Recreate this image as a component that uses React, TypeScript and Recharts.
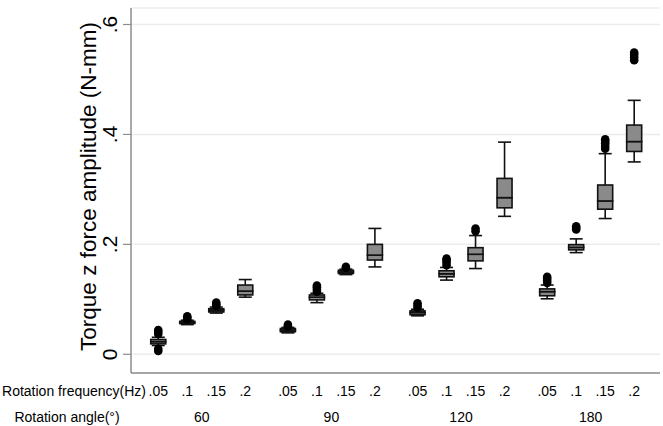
import React from "react";
import { Bar, CartesianGrid, ComposedChart, Label, Scatter, XAxis, YAxis } from "recharts";

const angles = [60, 90, 120, 180];
const freqLabels = [".05", ".1", ".15", ".2"];

// one value per box: 60° (.05 .1 .15 .2), then 90°, 120°, 180°
const whiskerLow = [0.016, 0.054, 0.075, 0.104, 0.039, 0.094, 0.145, 0.159, 0.07, 0.135, 0.156, 0.251, 0.101, 0.185, 0.247, 0.35];
const q1 = [0.019, 0.056, 0.077, 0.108, 0.041, 0.099, 0.147, 0.1715, 0.072, 0.141, 0.17, 0.2665, 0.1065, 0.19, 0.264, 0.369];
const median = [0.023, 0.058, 0.08, 0.115, 0.044, 0.104, 0.15, 0.1805, 0.076, 0.1465, 0.182, 0.285, 0.114, 0.1945, 0.279, 0.387];
const q3 = [0.027, 0.06, 0.083, 0.126, 0.047, 0.108, 0.153, 0.2, 0.079, 0.152, 0.194, 0.32, 0.119, 0.1995, 0.308, 0.417];
const whiskerHigh = [0.031, 0.062, 0.086, 0.136, 0.049, 0.111, 0.155, 0.229, 0.082, 0.158, 0.216, 0.386, 0.126, 0.21, 0.365, 0.462];
const outliers = [
  [0.037, 0.041, 0.044, 0.006, 0.01],
  [0.064, 0.067, 0.069],
  [0.088, 0.091, 0.094],
  [],
  [0.051, 0.054],
  [0.114, 0.118, 0.122, 0.125],
  [0.157, 0.159],
  [],
  [0.085, 0.089, 0.093],
  [0.162, 0.167, 0.171, 0.174],
  [0.224, 0.229],
  [],
  [0.13, 0.134, 0.138, 0.141],
  [0.227, 0.23, 0.233],
  [0.374, 0.379, 0.384, 0.388, 0.391],
  [0.535, 0.54, 0.545, 0.549],
];

const yTicks = [0, 0.2, 0.4, 0.6];

const GROUP_STEP = 4.47;
const FONT = "'Liberation Sans', Arial, sans-serif";
const AXIS_GREY = "#8c8c8c";
const BOX_FILL = "#8a8a8a";
const INK = "#111111";

const boxX = (k: number) => Math.floor(k / 4) * GROUP_STEP + (k % 4);
const groupCenters = angles.map((_, g) => g * GROUP_STEP + 1.5);

const rows = whiskerLow.map((lo, k) => ({
  x: boxX(k),
  base: lo,
  lowWhisker: q1[k] - lo,
  lowBox: median[k] - q1[k],
  highBox: q3[k] - median[k],
  highWhisker: whiskerHigh[k] - q3[k],
}));

const outlierPoints = outliers.flatMap((vals, k) => vals.map((v) => ({ x: boxX(k), y: v })));

const boxTicks = rows.map((r) => r.x);
const xTicks = [...boxTicks, ...groupCenters];

const fmtY = (v: number) => (v === 0 ? "0" : String(v).replace(/^0/, ""));

const BoxHalf = (p: any) => (
  <rect x={p.x} y={p.y} width={p.width} height={p.height} fill={BOX_FILL} stroke={INK} strokeWidth={1.6} />
);

const WhiskerLow = (p: any) => {
  const cx = p.x + p.width / 2;
  const bottom = p.y + p.height;
  return (
    <g stroke={INK} strokeWidth={1.6}>
      <line x1={cx} x2={cx} y1={p.y} y2={bottom} />
      <line x1={cx - 6.5} x2={cx + 6.5} y1={bottom} y2={bottom} />
    </g>
  );
};

const WhiskerHigh = (p: any) => {
  const cx = p.x + p.width / 2;
  return (
    <g stroke={INK} strokeWidth={1.6}>
      <line x1={cx} x2={cx} y1={p.y} y2={p.y + p.height} />
      <line x1={cx - 6.5} x2={cx + 6.5} y1={p.y} y2={p.y} />
    </g>
  );
};

const OutlierDot = (p: any) => <circle cx={p.cx} cy={p.cy} r={4.3} fill="#000" />;

const YTick = ({ x, y, payload }: any) => (
  <text
    x={x - 4}
    y={y}
    transform={`rotate(-90, ${x - 4}, ${y})`}
    textAnchor="middle"
    fontSize={21}
    fontFamily={FONT}
    fill="#000"
  >
    {fmtY(payload.value)}
  </text>
);

const XTick = ({ x, y, payload }: any) => {
  const k = boxTicks.findIndex((b) => Math.abs(b - payload.value) < 1e-6);
  if (k >= 0) {
    return (
      <text x={x} y={y + 23} textAnchor="middle" fontSize={14} fontFamily={FONT} fill="#000">
        {freqLabels[k % 4]}
      </text>
    );
  }
  const g = groupCenters.findIndex((c) => Math.abs(c - payload.value) < 1e-6);
  return (
    <text x={x} y={y + 49} textAnchor="middle" fontSize={14} fontFamily={FONT} fill="#000">
      {angles[g]}
    </text>
  );
};

const XTitles = ({ viewBox }: any) => (
  <g fontFamily={FONT} fontSize={14} fill="#000">
    <text x={viewBox.x + 15} y={viewBox.y + 23} textAnchor="end">
      Rotation frequency(Hz)
    </text>
    <text x={viewBox.x - 64} y={viewBox.y + 49} textAnchor="middle">
      Rotation angle(°)
    </text>
  </g>
);

const YTitle = ({ viewBox }: any) => {
  const bx = viewBox.x + 25;
  const cy = viewBox.y + viewBox.height / 2 - 4;
  return (
    <text
      x={bx}
      y={cy}
      transform={`rotate(-90, ${bx}, ${cy})`}
      textAnchor="middle"
      fontSize={22.5}
      fontFamily={FONT}
      fill="#000"
    >
      Torque z force amplitude (N-mm)
    </text>
  );
};

export default function App() {
  return (
    <div style={{ position: "absolute", left: 0, top: 0, background: "#fff" }}>
      <ComposedChart
        width={663}
        height={426}
        data={rows}
        margin={{ top: 8, right: 3, bottom: 0, left: 71 }}
        style={{ fontFamily: FONT }}
      >
        <CartesianGrid horizontal vertical={false} stroke="#ececec" strokeWidth={1.5} />
        <XAxis
          dataKey="x"
          type="number"
          domain={[-0.94, 17.3]}
          ticks={xTicks}
          interval={0}
          height={53}
          tickLine={false}
          tickSize={0}
          tickMargin={0}
          axisLine={{ stroke: AXIS_GREY, strokeWidth: 1.5 }}
          tick={<XTick />}
          allowDataOverflow
        >
          <Label content={<XTitles />} />
        </XAxis>
        <YAxis
          type="number"
          domain={[-0.034, 0.63]}
          ticks={yTicks}
          width={60}
          tickSize={8}
          axisLine={{ stroke: AXIS_GREY, strokeWidth: 1.5 }}
          tickLine={{ stroke: AXIS_GREY, strokeWidth: 1.2 }}
          tick={<YTick />}
          allowDataOverflow
        >
          <Label content={<YTitle />} />
        </YAxis>
        <Bar dataKey="base" stackId="box" barSize={15} fill="transparent" isAnimationActive={false} />
        <Bar dataKey="lowWhisker" stackId="box" barSize={15} shape={<WhiskerLow />} isAnimationActive={false} />
        <Bar dataKey="lowBox" stackId="box" barSize={15} shape={<BoxHalf />} isAnimationActive={false} />
        <Bar dataKey="highBox" stackId="box" barSize={15} shape={<BoxHalf />} isAnimationActive={false} />
        <Bar dataKey="highWhisker" stackId="box" barSize={15} shape={<WhiskerHigh />} isAnimationActive={false} />
        <Scatter data={outlierPoints} dataKey="y" shape={<OutlierDot />} isAnimationActive={false} />
      </ComposedChart>
    </div>
  );
}
